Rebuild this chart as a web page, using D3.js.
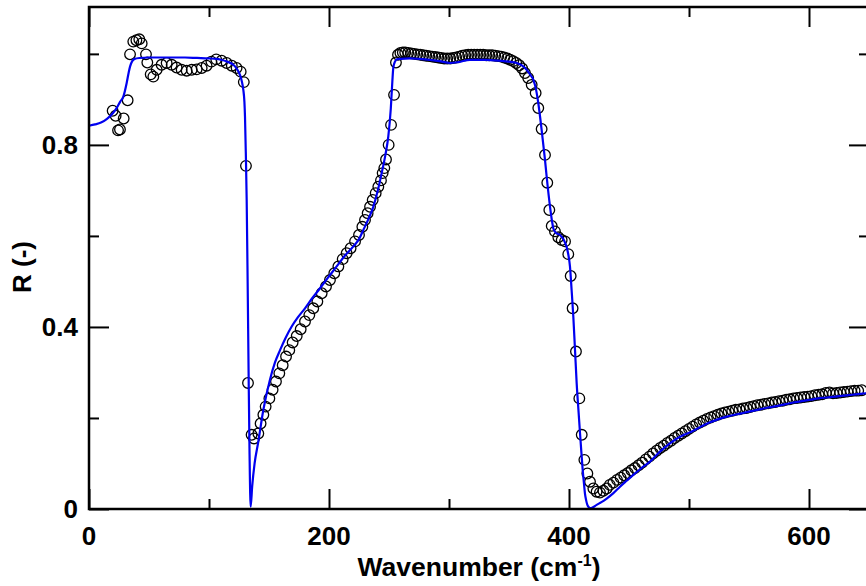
<!DOCTYPE html>
<html><head><meta charset="utf-8">
<script src="https://cdn.jsdelivr.net/npm/d3@7"></script>
<style>
html,body{margin:0;padding:0;background:#fff;}
svg{display:block;font-family:"Liberation Sans",Arial,sans-serif;font-weight:bold;}
</style></head>
<body><svg id="chart" width="866" height="586"></svg>
<script>
// Measured data (circles): wavenumber (cm-1) and reflectance
const measWavenumber = [
 19.7,22.2,24.2,25.8,28.9,32.2,34.2,36.9,39.5,41.9,43.9,47.5,48.6,51.4,53.6,
 56.4,60.5,64.7,68.9,73,77.2,81.4,85.6,89.7,93.9,98,102,106,110.5,114.7,119,123,126.4,129,
 130.8,132.5,135.5,137.5,141.1,143,145.3,147.2,150.3,153,155.8,158.6,161.4,164.2,166.9,169.7,
 173.1,176.4,180,183.6,186.9,190.3,193.9,197.5,200.8,204.4,207.8,211.4,214.7,218,221.7,225,
 227.8,230,232.2,234.2,236.4,238.9,241.1,243.3,244.7,246.1,247.5,249.7,251.7,254.2,255.8,
 257.5,259.5,261.5,263.5,266,268.5,271,273.5,276,278.5,281,283.5,286,288.5,291,293.5,296,298.5,
 301,303.5,306,308.5,311,313.5,316,318.5,321,323.5,326,328.5,331,333.5,336,338.5,341,343.5,346,
 348.5,351,353.5,356,358.5,361,363.3,366,368.9,372.2,374.4,377.2,380,381.9,383.6,385.6,388.3,
 391.1,393.9,396.7,399.4,401.4,403,405.8,408.6,410.6,412.8,415.3,417.5,420.3,423,425.8,428.6,
 431.4,434,437,440,443,446,449,452,455,458,461,464,467,470,473,476,479,482,485,488,491,494,497,
 500,503,506,509,512,515,518,521,524,527,530,533,536,539,542,545,548,551,554,557,560,563,566,
 569,572,575,578,581,584,587,590,593,596,599,602,605,608,611,614,617,620,623,626,629,632,635,
 638,641,644
];
const measR = [
 0.875,0.864,0.832,0.834,0.858,0.898,0.999,1.027,1.030,1.032,1.023,0.999,0.981,0.955,0.950,
 0.965,0.976,0.980,0.976,0.970,0.965,0.963,0.965,0.966,0.969,0.974,0.983,0.988,0.985,0.980,0.974,0.969,0.961,0.938,
 0.754,0.277,0.163,0.155,0.166,0.188,0.207,0.225,0.243,0.262,0.280,0.298,0.316,0.335,0.349,0.366,
 0.380,0.395,0.412,0.426,0.441,0.456,0.474,0.489,0.503,0.518,0.533,0.549,0.562,0.573,0.588,0.602,
 0.620,0.635,0.650,0.664,0.679,0.694,0.708,0.722,0.738,0.749,0.768,0.800,0.844,0.910,0.981,
 0.998,1.002,1.003,1.003,1.002,1.001,1.000,0.999,0.998,0.997,0.996,0.995,0.994,0.993,0.992,0.991,0.990,0.990,
 0.990,0.991,0.992,0.994,0.996,0.997,0.998,0.998,0.998,0.998,0.998,0.998,0.997,0.997,0.997,0.996,0.995,0.994,0.992,
 0.990,0.987,0.984,0.980,0.975,0.968,0.958,0.947,0.932,0.914,0.881,0.835,0.778,0.717,0.657,0.622,0.610,
 0.597,0.591,0.588,0.560,0.512,0.441,0.346,0.243,0.163,0.108,0.078,0.060,0.045,0.038,0.036,0.040,
 0.045,0.053,0.058,0.064,0.069,0.074,0.079,0.085,0.090,0.096,0.102,0.109,0.115,0.122,0.128,0.134,0.139,0.145,0.150,0.156,0.161,0.166,0.171,
 0.176,0.181,0.186,0.190,0.194,0.198,0.201,0.204,0.207,0.210,0.212,0.214,0.216,0.218,0.219,0.221,0.222,0.224,0.226,0.228,0.229,0.231,0.232,
 0.234,0.235,0.237,0.238,0.240,0.241,0.243,0.244,0.245,0.246,0.247,0.248,0.250,0.251,0.252,0.255,0.256,0.254,0.255,0.256,0.257,0.258,0.259,
 0.260,0.260,0.261
];
// Fitted model curve (blue line)
const fitWavenumber = [
 0,5,10,15,20,23,26,28.6,31.4,33,34.2,36,38,42,50,60,70,80,90,100,106,110,115,120.3,123,125.8,127.5,128.6,129.5,130,
 130.7,131.4,132.2,133,133.8,134.7,136,138,141.1,145.3,150.8,155,159.2,164,168.9,174,180,186,192.5,199,206.4,213,220.3,
 225,228.6,233,236.9,240.5,243.9,247,249.4,251.5,252.8,253.6,255,256.4,260,267.5,275,284,292,300.8,308,317.5,330,342.5,
 350,356.4,361,364.7,368,370.3,372.5,374.4,377.2,380,381.4,384.2,386,386.9,389,392.5,395.5,398,399.5,400.8,402.2,403.6,
 405,406.4,407.8,409.2,410.3,411.4,412.4,413.3,414.3,415.3,416.5,418,420,423,427,431.4,437,442.5,448,453.6,460,467.5,
 475.8,483,490,496,503.6,510,517,524,531.4,538,545,552,559,566,573,580,587,594,601,608,615,622,629,636,642.5,650
];
const fitR = [
 0.842,0.845,0.849,0.857,0.870,0.881,0.895,0.906,0.936,0.958,0.972,0.984,0.989,0.991,0.992,0.992,0.992,0.992,0.991,0.990,0.989,0.987,0.983,0.976,0.968,0.954,0.938,0.921,0.895,0.862,
 0.780,0.679,0.500,0.300,0.120,0.005,0.050,0.100,0.148,0.218,0.284,0.322,0.349,0.377,0.401,0.421,0.441,0.463,0.485,0.508,0.533,0.556,0.577,
 0.593,0.613,0.638,0.664,0.698,0.738,0.778,0.818,0.880,0.940,0.970,0.983,0.988,0.989,0.990,0.989,0.987,0.984,0.980,0.982,0.987,0.987,0.985,
 0.983,0.980,0.974,0.965,0.953,0.943,0.922,0.892,0.833,0.767,0.730,0.664,0.630,0.617,0.607,0.602,0.592,0.576,0.558,0.533,0.480,0.423,
 0.350,0.276,0.220,0.166,0.125,0.086,0.058,0.034,0.019,0.009,0.004,0.002,0.004,0.009,0.015,0.023,0.035,0.049,0.062,0.075,0.089,0.104,
 0.126,0.142,0.155,0.163,0.172,0.181,0.190,0.197,0.203,0.207,0.211,0.215,0.219,0.223,0.226,0.230,0.234,0.237,0.240,0.243,0.245,0.247,0.249,0.251,0.253,0.255
];
const xMajorTicks = [0,200,400,600];
const xMinorTicks = [100,300,500];
const yMajorTicks = [0,0.4,0.8];
const yMinorTicks = [0.2,0.6,1.0];
const xDomain = [0,650];
const yDomain = [0,1.103];

const svg = d3.select("#chart");
const L=89, R=869, T=7, B=509;
const x = d3.scaleLinear().domain(xDomain).range([L,R]);
const y = d3.scaleLinear().domain(yDomain).range([B,T]);

svg.append("defs").append("clipPath").attr("id","clip")
 .append("rect").attr("x",L).attr("y",T).attr("width",R-L).attr("height",B-T);

const meas = measWavenumber.map((w,i)=>({w, r: measR[i]}));
const fit = fitWavenumber.map((w,i)=>({w, r: fitR[i]}));

// circles
svg.append("g").attr("clip-path","url(#clip)")
 .selectAll("circle").data(meas).join("circle")
 .attr("cx",d=>x(d.w)).attr("cy",d=>y(d.r)).attr("r",5.3)
 .attr("fill","none").attr("stroke","#000").attr("stroke-width",1.3);

// fit line
svg.append("path").datum(fit).attr("clip-path","url(#clip)")
 .attr("fill","none").attr("stroke","#0000f0").attr("stroke-width",2.2)
 .attr("d", d3.line().x(d=>x(d.w)).y(d=>y(d.r)).curve(d3.curveMonotoneX));

// axes
function axisGroup(axisFn, transform, ticks, size){
  const g = svg.append("g").attr("transform",transform)
   .call(axisFn.tickValues(ticks).tickSize(size).tickFormat(""));
  g.select(".domain").remove();
  g.selectAll(".tick line").attr("stroke","#000").attr("stroke-width",2);
  return g;
}
axisGroup(d3.axisTop(x), `translate(0,${B})`, xMajorTicks, 20);
axisGroup(d3.axisTop(x), `translate(0,${B})`, xMinorTicks, 10);
axisGroup(d3.axisBottom(x), `translate(0,${T})`, xMajorTicks, 20);
axisGroup(d3.axisBottom(x), `translate(0,${T})`, xMinorTicks, 10);
axisGroup(d3.axisRight(y), `translate(${L},0)`, yMajorTicks, 20);
axisGroup(d3.axisRight(y), `translate(${L},0)`, yMinorTicks, 10);
axisGroup(d3.axisLeft(y), `translate(${R},0)`, yMajorTicks, 20);
axisGroup(d3.axisLeft(y), `translate(${R},0)`, yMinorTicks, 10);

// frame
svg.append("rect").attr("x",L).attr("y",T).attr("width",R-L).attr("height",B-T)
 .attr("fill","none").attr("stroke","#000").attr("stroke-width",2.5);

// tick labels
svg.append("g").selectAll("text").data(xMajorTicks).join("text")
 .attr("x",d=>x(d)).attr("y",545).attr("text-anchor","middle")
 .attr("font-size",26).text(d=>d3.format("d")(d));
svg.append("g").selectAll("text").data(yMajorTicks).join("text")
 .attr("x",78).attr("y",d=>y(d)+9.3).attr("text-anchor","end")
 .attr("font-size",26).text(d=>d===0?"0":d3.format(".1f")(d));

// axis titles
const xt = svg.append("text").attr("x",(L+R)/2).attr("y",576).attr("text-anchor","middle").attr("font-size",26.5);
xt.append("tspan").text("Wavenumber (cm");
xt.append("tspan").attr("font-size",16).attr("dy",-10).text("-1");
xt.append("tspan").attr("dy",10).text(")");

svg.append("text").attr("transform","translate(31,267) rotate(-90)")
 .attr("text-anchor","middle").attr("font-size",26).text("R (-)");
</script></body></html>
